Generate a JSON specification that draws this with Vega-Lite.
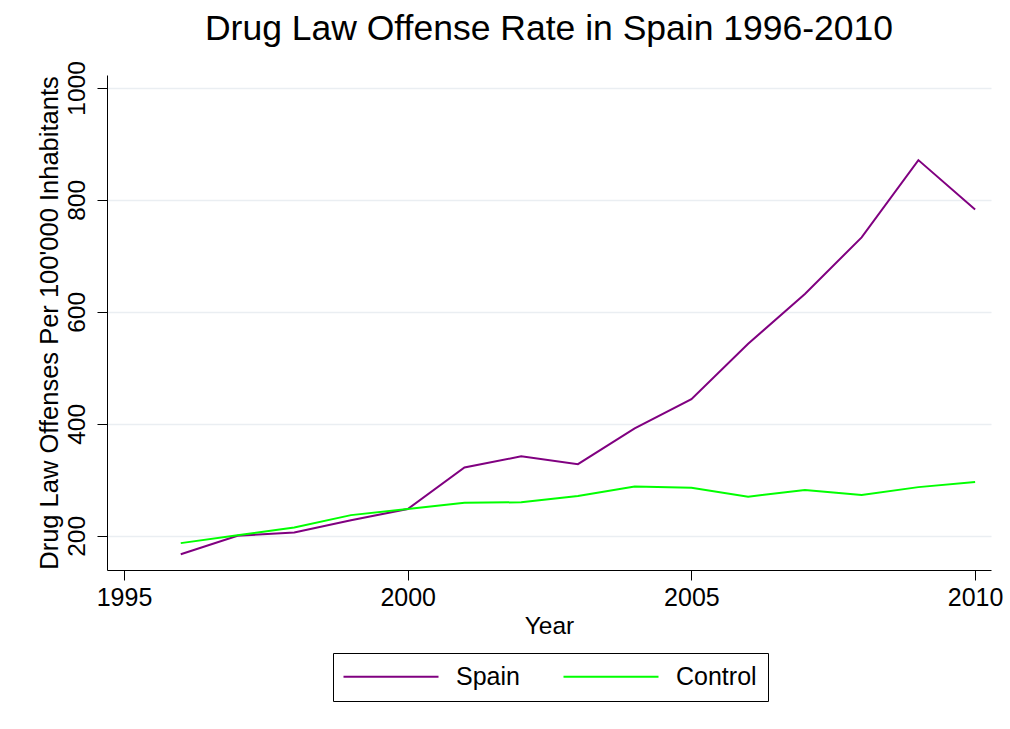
{
  "$schema": "https://vega.github.io/schema/vega-lite/v6.json",
  "autosize": {"type": "none"},
  "padding": {"left": 107, "top": 75, "right": 19, "bottom": 159},
  "width": 884,
  "height": 495,
  "background": "white",
  "config": {
    "font": "Liberation Sans",
    "view": {"stroke": null}
  },
  "title": {
    "text": "Drug Law Offense Rate in Spain 1996-2010",
    "fontSize": 35.5,
    "fontWeight": "normal",
    "color": "black",
    "anchor": "middle",
    "offset": 13
  },
  "data": {
    "values": [
      {"year": 1996, "series": "Spain", "rate": 167},
      {"year": 1997, "series": "Spain", "rate": 200},
      {"year": 1998, "series": "Spain", "rate": 206},
      {"year": 1999, "series": "Spain", "rate": 228},
      {"year": 2000, "series": "Spain", "rate": 248},
      {"year": 2001, "series": "Spain", "rate": 322},
      {"year": 2002, "series": "Spain", "rate": 342},
      {"year": 2003, "series": "Spain", "rate": 328},
      {"year": 2004, "series": "Spain", "rate": 392},
      {"year": 2005, "series": "Spain", "rate": 444},
      {"year": 2006, "series": "Spain", "rate": 543},
      {"year": 2007, "series": "Spain", "rate": 632},
      {"year": 2008, "series": "Spain", "rate": 733},
      {"year": 2009, "series": "Spain", "rate": 871},
      {"year": 2010, "series": "Spain", "rate": 783},
      {"year": 1996, "series": "Control", "rate": 187},
      {"year": 1997, "series": "Control", "rate": 201},
      {"year": 1998, "series": "Control", "rate": 215},
      {"year": 1999, "series": "Control", "rate": 237},
      {"year": 2000, "series": "Control", "rate": 248},
      {"year": 2001, "series": "Control", "rate": 259},
      {"year": 2002, "series": "Control", "rate": 260},
      {"year": 2003, "series": "Control", "rate": 271},
      {"year": 2004, "series": "Control", "rate": 288},
      {"year": 2005, "series": "Control", "rate": 286},
      {"year": 2006, "series": "Control", "rate": 270},
      {"year": 2007, "series": "Control", "rate": 282},
      {"year": 2008, "series": "Control", "rate": 273},
      {"year": 2009, "series": "Control", "rate": 287},
      {"year": 2010, "series": "Control", "rate": 296}
    ]
  },
  "mark": {"type": "line", "strokeWidth": 2},
  "encoding": {
    "x": {
      "field": "year",
      "type": "quantitative",
      "scale": {"domain": [1994.7, 2010.28], "nice": false, "zero": false},
      "axis": {
        "title": "Year",
        "values": [1995, 2000, 2005, 2010],
        "format": "d",
        "grid": false,
        "domainColor": "black",
        "domainWidth": 1,
        "tickColor": "black",
        "tickSize": 10,
        "labelFontSize": 25,
        "labelColor": "black",
        "labelPadding": 5,
        "labelFlush": false,
        "titleFontSize": 24.5,
        "titleFontWeight": "normal",
        "titleColor": "black",
        "titlePadding": 4
      }
    },
    "y": {
      "field": "rate",
      "type": "quantitative",
      "scale": {"domain": [139, 1023], "nice": false, "zero": false},
      "axis": {
        "title": "Drug Law Offenses Per 100'000 Inhabitants",
        "values": [200, 400, 600, 800, 1000],
        "format": "d",
        "grid": true,
        "gridColor": "#eaeef2",
        "gridWidth": 1.5,
        "domainColor": "black",
        "domainWidth": 1,
        "tickColor": "black",
        "tickSize": 10,
        "labelAngle": -90,
        "labelAlign": "center",
        "labelBaseline": "alphabetic",
        "labelFontSize": 24.5,
        "labelColor": "black",
        "labelPadding": 13,
        "labelFlush": false,
        "titleFontSize": 25.5,
        "titleFontWeight": "normal",
        "titleColor": "black",
        "titlePadding": 2
      }
    },
    "color": {
      "field": "series",
      "type": "nominal",
      "scale": {"domain": ["Spain", "Control"], "range": ["#800080", "#00ff00"]},
      "legend": {
        "title": null,
        "orient": "none",
        "legendX": 226,
        "legendY": 578,
        "direction": "horizontal",
        "symbolType": "M0,0L47.5,0",
        "symbolSize": 16,
        "symbolStrokeWidth": 2,
        "symbolOffset": -13,
        "labelFontSize": 25,
        "labelColor": "black",
        "labelOffset": 100,
        "columnPadding": 39,
        "padding": 11,
        "strokeColor": "black",
        "fillColor": "white"
      }
    }
  }
}
